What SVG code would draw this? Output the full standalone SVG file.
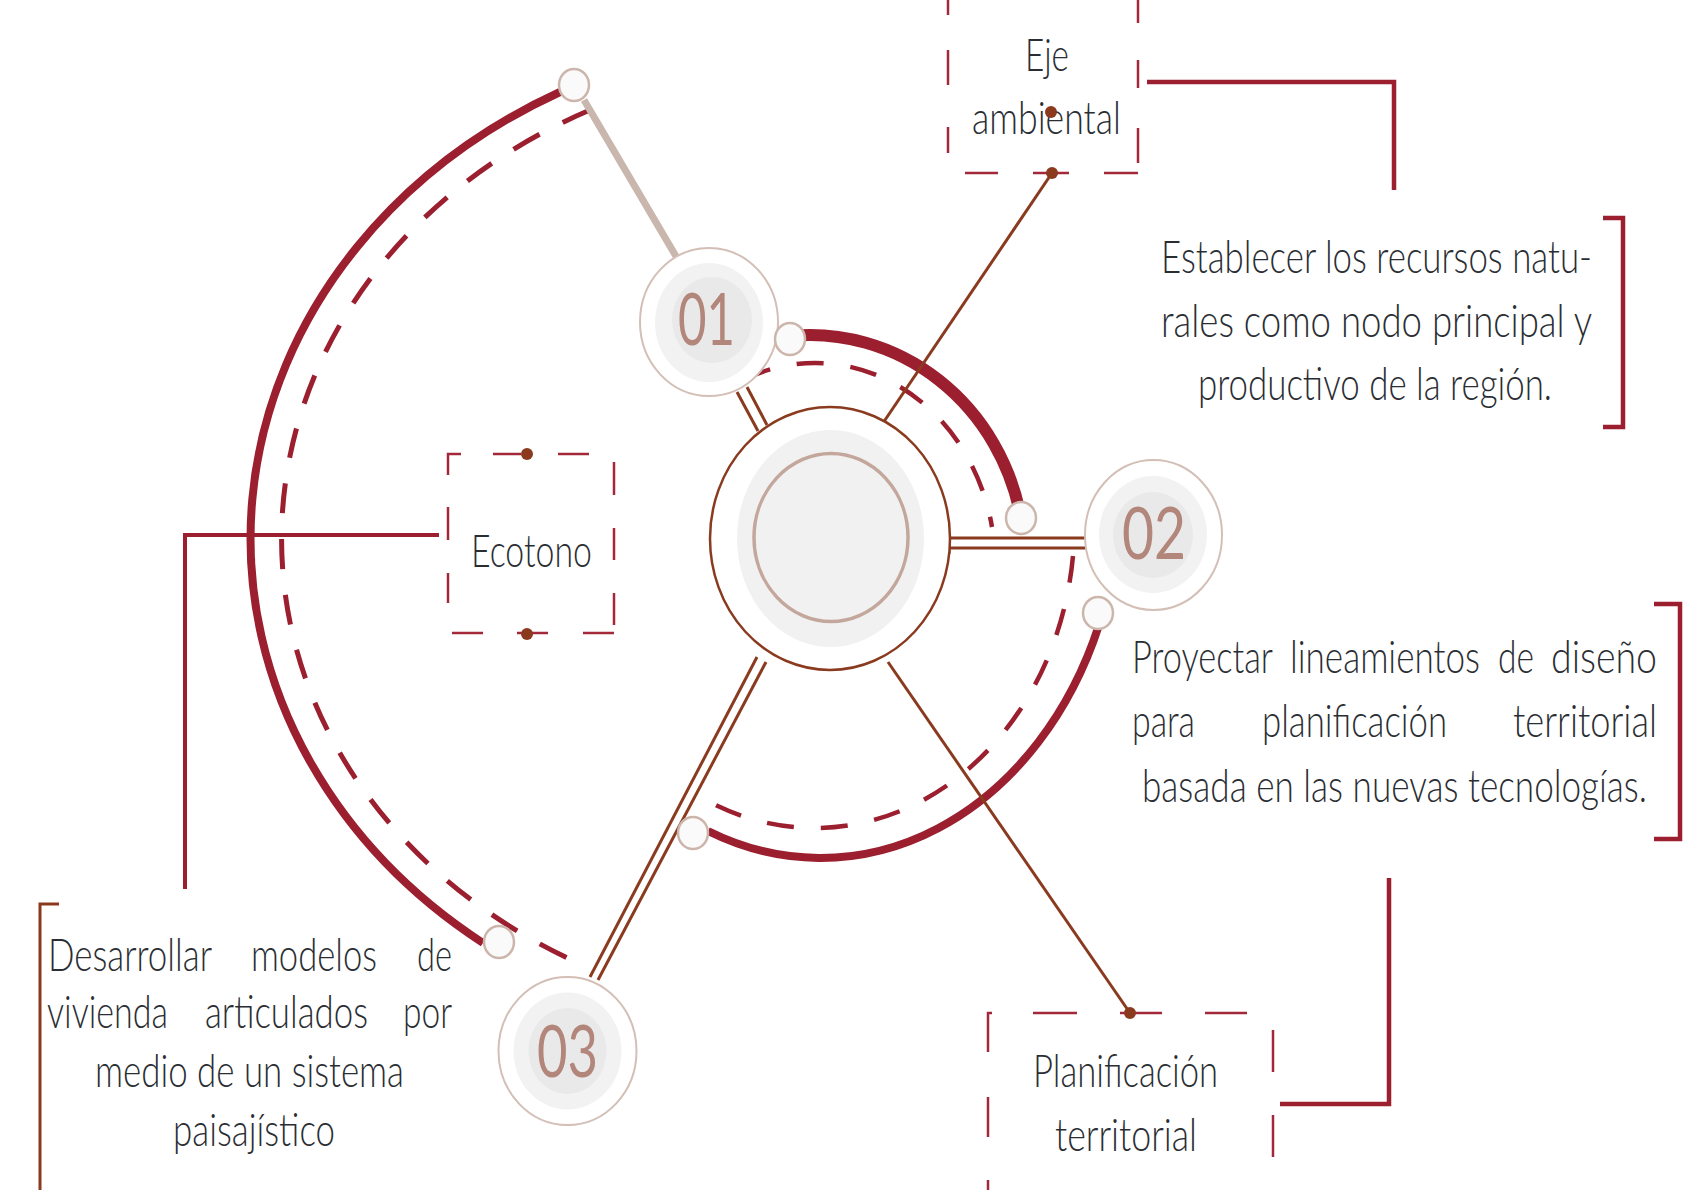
<svg xmlns="http://www.w3.org/2000/svg" width="1690" height="1190" viewBox="0 0 1690 1190">
<style>
.red{stroke:#9b1f2e;fill:none}
.dash{stroke-dasharray:30 26}
.brown{stroke:#8a3b1f;fill:none;stroke-width:3}
.box{fill:none;stroke:#a3283a;stroke-width:2.5}
.t{font-family:Lato,'Liberation Sans',sans-serif;font-weight:300;font-size:34px;fill:#2a2e33}
.num{font-family:Lato,'Liberation Sans',sans-serif;font-size:50px;fill:#b3867b}
.no{fill:#fff;stroke:#d3bfb6;stroke-width:2}
.ng{fill:#f2f2f2}
.ni{fill:#e9e9e9}
.knob{fill:#fafafa;stroke:#ccb6ac;stroke-width:2.5}
.dot{fill:#8b3a1e}
</style>
<rect width="1690" height="1190" fill="#fff"/>
<g id="connectors">
  <path class="red" stroke-width="8" d="M 560 92 A 580 505 0 0 0 483 943"/>
  <path class="red dash" stroke-width="5" d="M 590 110 A 548 477 0 0 0 590 968"/>
  <path class="red" stroke-width="12" d="M 790 336 A 215 225 0 0 1 1021 518"/>
  <path class="red" stroke-width="4.5" stroke-dasharray="27 27" d="M 745 379 A 180 202 0 0 1 992 527"/>
  <path class="red" stroke-width="8" d="M 1099 625 A 300 370 0 0 1 708 831"/>
  <path class="red" stroke-width="4.5" stroke-dasharray="27 27" d="M 1073 556 A 260 305 0 0 1 702 798"/>
  <line x1="584" y1="100" x2="677" y2="258" stroke="#c9b6ac" stroke-width="7"/>
  <line class="brown" x1="737" y1="392" x2="758" y2="431"/>
  <line class="brown" x1="747" y1="387" x2="767" y2="425"/>
  <line class="brown" x1="948" y1="538" x2="1088" y2="538"/>
  <line class="brown" x1="948" y1="548" x2="1088" y2="548"/>
  <line class="brown" x1="949" y1="532" x2="949" y2="554"/>
  <line class="brown" x1="757" y1="657" x2="590" y2="977"/>
  <line class="brown" x1="766" y1="662" x2="598" y2="980"/>
  <line class="brown" x1="883" y1="423" x2="1052" y2="173"/>
  <line class="brown" stroke-width="3.5" x1="888" y1="662" x2="1130" y2="1013"/>
  <path class="red" stroke-width="4.5" d="M 1147 82 H 1394 V 190"/>
  <path class="red" stroke-width="4.5" d="M 1603 218 H 1623 V 427 H 1603"/>
  <path class="red" stroke-width="4.5" d="M 1654 604 H 1680 V 839 H 1654"/>
  <path class="red" stroke-width="4.5" d="M 1280 1104 H 1389 V 878"/>
  <path class="red" stroke-width="4" d="M 439 535 H 185 V 889"/>
  <path fill="none" stroke="#8a3b1f" stroke-width="3" d="M 59 904 H 40 V 1190"/>
</g>
<g id="center">
  <ellipse cx="830" cy="538.5" rx="120" ry="131.5" fill="#fff" stroke="#8a3b1f" stroke-width="2.5"/>
  <ellipse cx="830.5" cy="538.5" rx="93.5" ry="108.5" fill="#f1f1f1"/>
  <ellipse cx="831" cy="537.5" rx="77" ry="84" fill="#f1f1f1" stroke="#c4a79c" stroke-width="3.5"/>
</g>
<g id="node01">
  <ellipse class="no" cx="709" cy="322" rx="69" ry="74"/>
  <ellipse class="ng" cx="709" cy="322.5" rx="54" ry="59.5"/>
  <ellipse class="ni" cx="712" cy="320" rx="40" ry="43"/>
  <text class="num" x="678" transform="matrix(1 0 0 1.44 0 345)" textLength="57" lengthAdjust="spacingAndGlyphs">01</text>
</g>
<g id="node02">
  <ellipse class="no" cx="1153.5" cy="535" rx="68.5" ry="75"/>
  <ellipse class="ng" cx="1153" cy="534.5" rx="54" ry="58.5"/>
  <ellipse class="ni" cx="1153" cy="535" rx="40" ry="43"/>
  <text class="num" x="1122" transform="matrix(1 0 0 1.44 0 559)" textLength="64" lengthAdjust="spacingAndGlyphs">02</text>
</g>
<g id="node03">
  <ellipse class="no" cx="567.5" cy="1051" rx="69" ry="74"/>
  <ellipse class="ng" cx="567.5" cy="1051" rx="54" ry="58.5"/>
  <ellipse class="ni" cx="567.5" cy="1051" rx="39" ry="43"/>
  <text class="num" x="537" transform="matrix(1 0 0 1.44 0 1077)" textLength="61" lengthAdjust="spacingAndGlyphs">03</text>
</g>
<g id="knobs">
  <ellipse class="knob" cx="574" cy="85" rx="15" ry="16"/>
  <ellipse class="knob" cx="790" cy="339" rx="15" ry="16"/>
  <ellipse class="knob" cx="1021" cy="518" rx="15" ry="16"/>
  <ellipse class="knob" cx="1098" cy="613" rx="15" ry="16"/>
  <ellipse class="knob" cx="693" cy="833" rx="15" ry="16"/>
  <ellipse class="knob" cx="499" cy="942" rx="15" ry="16"/>
</g>
<g id="eje">
  <path class="box" d="M948 0V15M948 50V85M948 127V153M1138 0V23M1138 60V88M1138 128V163M965 173H998M1033 173H1069M1104 173H1138"/>
  <text class="t" x="1025" transform="matrix(1 0 0 1.35 0 71)" textLength="44" lengthAdjust="spacingAndGlyphs">Eje</text>
  <text class="t" x="972" transform="matrix(1 0 0 1.35 0 134)" textLength="149" lengthAdjust="spacingAndGlyphs">ambiental</text>
  <circle class="dot" cx="1051" cy="112" r="6"/>
  <circle class="dot" cx="1052" cy="173" r="6"/>
</g>
<g id="ecotono">
  <path class="box" d="M461 454H448V475M493 454H521M558 454H589M448 507V540M448 573V603M614 462V495M614 528V560M614 593V625M452 633H483M517 633H548M583 633H614"/>
  <text class="t" x="471" transform="matrix(1 0 0 1.35 0 567)" textLength="121" lengthAdjust="spacingAndGlyphs">Ecotono</text>
  <circle class="dot" cx="527" cy="454" r="6"/>
  <circle class="dot" cx="527" cy="634" r="6"/>
</g>
<g id="planificacion">
  <path class="box" d="M992 1013H988V1052M1033 1013H1077M1120 1013H1162M1205 1013H1247M988 1097V1137M988 1180V1190M1273 1030V1072M1273 1115V1157"/>
  <text class="t" x="1033" transform="matrix(1 0 0 1.35 0 1087)" textLength="185" lengthAdjust="spacingAndGlyphs">Planificación</text>
  <text class="t" x="1055" transform="matrix(1 0 0 1.35 0 1151)" textLength="142" lengthAdjust="spacingAndGlyphs">territorial</text>
  <circle class="dot" cx="1130" cy="1013" r="6"/>
</g>
<g id="establecer">
  <text class="t" x="1161" transform="matrix(1 0 0 1.35 0 273)" textLength="431" lengthAdjust="spacingAndGlyphs">Establecer los recursos natu-</text>
  <text class="t" x="1161" transform="matrix(1 0 0 1.35 0 337)" textLength="431" lengthAdjust="spacingAndGlyphs">rales como nodo  principal y</text>
  <text class="t" x="1198" transform="matrix(1 0 0 1.35 0 400)" textLength="354" lengthAdjust="spacingAndGlyphs">productivo de la región.</text>
</g>
<g id="proyectar">
  <text class="t" transform="matrix(1 0 0 1.35 0 673)"><tspan x="1132" textLength="141" lengthAdjust="spacingAndGlyphs">Proyectar</tspan> <tspan x="1290" textLength="190" lengthAdjust="spacingAndGlyphs">lineamientos</tspan> <tspan x="1498" textLength="36" lengthAdjust="spacingAndGlyphs">de</tspan> <tspan x="1551" textLength="106" lengthAdjust="spacingAndGlyphs">diseño</tspan></text>
  <text class="t" transform="matrix(1 0 0 1.35 0 737)"><tspan x="1132" textLength="63" lengthAdjust="spacingAndGlyphs">para</tspan> <tspan x="1262" textLength="185" lengthAdjust="spacingAndGlyphs">planificación</tspan> <tspan x="1513" textLength="144" lengthAdjust="spacingAndGlyphs">territorial</tspan></text>
  <text class="t" x="1142" transform="matrix(1 0 0 1.35 0 802)" textLength="505" lengthAdjust="spacingAndGlyphs">basada en las nuevas tecnologías.</text>
</g>
<g id="desarrollar">
  <text class="t" transform="matrix(1 0 0 1.35 0 971)"><tspan x="48" textLength="164" lengthAdjust="spacingAndGlyphs">Desarrollar</tspan> <tspan x="251" textLength="126" lengthAdjust="spacingAndGlyphs">modelos</tspan> <tspan x="417" textLength="35" lengthAdjust="spacingAndGlyphs">de</tspan></text>
  <text class="t" transform="matrix(1 0 0 1.35 0 1028)"><tspan x="47" textLength="121" lengthAdjust="spacingAndGlyphs">vivienda</tspan> <tspan x="205" textLength="163" lengthAdjust="spacingAndGlyphs">articulados</tspan> <tspan x="403" textLength="49" lengthAdjust="spacingAndGlyphs">por</tspan></text>
  <text class="t" x="95" transform="matrix(1 0 0 1.35 0 1087)" textLength="309" lengthAdjust="spacingAndGlyphs">medio de un sistema</text>
  <text class="t" x="173" transform="matrix(1 0 0 1.35 0 1146)" textLength="162" lengthAdjust="spacingAndGlyphs">paisajístico</text>
</g>
</svg>
